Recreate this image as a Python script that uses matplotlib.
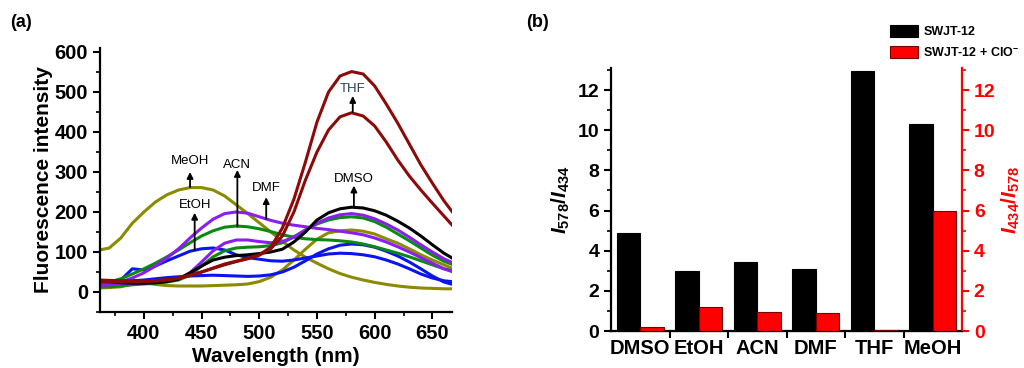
import numpy as np
import matplotlib
matplotlib.use('Agg')
import matplotlib.pyplot as plt
from matplotlib.ticker import MultipleLocator, FixedLocator

plt.rcParams['font.family'] = 'Liberation Sans'
plt.rcParams['mathtext.fontset'] = 'custom'
plt.rcParams['mathtext.rm'] = 'Liberation Sans:bold'
plt.rcParams['mathtext.it'] = 'Liberation Sans:italic:bold'
plt.rcParams['mathtext.bf'] = 'Liberation Sans:bold'

# ---- (a) fluorescence spectra ----
wavelength = list(range(360, 671, 10))

meoh_1 = [104, 110, 135, 172, 200, 225, 243, 255, 261, 261, 255, 240, 218, 196, 173, 150,
          127, 105, 87, 72, 58, 46, 37, 30, 24, 19, 15, 12, 10, 9, 8, 8]
meoh_2 = [10, 11, 13, 20, 23, 19, 16, 15, 15, 15, 16, 17, 18, 20, 26, 37,
          55, 80, 107, 132, 148, 153, 155, 152, 145, 133, 122, 108, 93, 80, 68, 56]
etoh_1 = [25, 27, 30, 58, 55, 65, 78, 90, 102, 108, 110, 105, 93, 86, 82, 78,
          77, 80, 85, 90, 95, 97, 96, 93, 88, 80, 70, 58, 45, 35, 28, 25]
etoh_2 = [20, 22, 25, 28, 30, 33, 36, 38, 40, 41, 42, 41, 40, 39, 40, 43,
          50, 62, 78, 95, 108, 117, 120, 118, 112, 102, 90, 75, 58, 40, 25, 17]
acn_1 = [20, 25, 33, 45, 58, 72, 88, 105, 123, 140, 153, 162, 165, 163, 158, 151,
         143, 137, 133, 131, 130, 128, 125, 120, 113, 105, 97, 88, 78, 68, 58, 52]
acn_2 = [12, 13, 15, 18, 20, 22, 25, 30, 42, 65, 88, 103, 110, 112, 113, 116,
         123, 138, 155, 170, 180, 186, 188, 185, 176, 162, 145, 128, 110, 92, 77, 66]
dmf_1 = [15, 18, 25, 35, 48, 65, 85, 108, 135, 160, 182, 196, 200, 197, 188, 179,
         172, 167, 163, 159, 156, 152, 148, 143, 135, 125, 113, 100, 86, 72, 58, 48]
dmf_2 = [18, 19, 20, 21, 22, 24, 27, 33, 48, 75, 103, 122, 130, 130, 126, 123,
         126, 137, 155, 172, 185, 193, 196, 192, 183, 170, 155, 137, 118, 100, 83, 70]
dmso_1 = [28, 26, 23, 22, 22, 23, 26, 32, 48, 65, 80, 87, 91, 93, 96, 100,
          107, 125, 150, 180, 198, 208, 212, 210, 203, 192, 177, 160, 140, 118, 97, 80]
thf_1 = [30, 29, 28, 28, 28, 29, 31, 35, 42, 50, 60, 70, 77, 84, 93, 112,
         160, 232, 325, 425, 500, 540, 551, 545, 515, 470, 422, 370, 318, 272, 228, 190]
thf_2 = [25, 25, 25, 25, 26, 27, 30, 34, 41, 50, 59, 68, 76, 83, 92, 108,
         140, 200, 280, 350, 405, 438, 448, 440, 415, 375, 330, 290, 255, 222, 190, 158]

# ---- (b) intensity ratios ----
solvents = ['DMSO', 'EtOH', 'ACN', 'DMF', 'THF', 'MeOH']
ratio_probe = [4.9, 3.0, 3.45, 3.1, 12.95, 10.3]
ratio_clo = [0.22, 1.18, 0.97, 0.92, 0.05, 6.0]

fig = plt.figure(figsize=(10.24, 3.68), dpi=100)

# panel (a)
ax1 = fig.add_axes([0.0977, 0.1522, 0.3437, 0.7174])
olive, blue, green, purple, maroon = '#8c8a00', '#0a14f0', '#0a8a12', '#8a1ef0', '#8b0a0a'
curves = [(meoh_1, olive), (meoh_2, olive), (etoh_1, blue), (etoh_2, blue),
          (acn_2, green), (acn_1, green), (dmf_1, purple), (dmf_2, purple),
          (dmso_1, 'black'), (thf_1, maroon), (thf_2, maroon)]
for vals, c in curves:
    ax1.plot(wavelength, vals, color=c, lw=2.2, solid_joinstyle='round')

ax1.set_xlim(362, 667)
ax1.set_ylim(-50, 610)
ax1.xaxis.set_major_locator(MultipleLocator(50))
ax1.xaxis.set_minor_locator(MultipleLocator(25))
ax1.yaxis.set_major_locator(FixedLocator([0, 100, 200, 300, 400, 500, 600]))
ax1.yaxis.set_minor_locator(MultipleLocator(50))
for s in ['top', 'right']:
    ax1.spines[s].set_visible(False)
for s in ['left', 'bottom']:
    ax1.spines[s].set_linewidth(1.6)
ax1.tick_params(which='major', direction='out', length=5, width=1.5, labelsize=14.5)
ax1.tick_params(which='minor', direction='out', length=3, width=1.2)
for lab in ax1.get_xticklabels() + ax1.get_yticklabels():
    lab.set_fontweight('bold')
ax1.set_xlabel('Wavelength (nm)', fontsize=15, fontweight='bold', labelpad=3)
ax1.set_ylabel('Fluorescence intensity', fontsize=15, fontweight='bold', labelpad=1)

arrow = dict(arrowstyle='-|>', color='black', lw=1.3, mutation_scale=9,
             shrinkA=0, shrinkB=0)
notes = [('MeOH', 440, 262, 300, 327, 'black'),
         ('EtOH', 444, 105, 198, 218, 'black'),
         ('ACN', 481, 163, 305, 317, 'black'),
         ('DMF', 506, 183, 237, 260, 'black'),
         ('DMSO', 582, 212, 266, 282, 'black'),
         ('THF', 581, 450, 490, 507, '#2f3f48')]
for name, x, y0, y1, ty, c in notes:
    ax1.annotate('', xy=(x, y1), xytext=(x, y0), arrowprops=arrow)
    ax1.text(x, ty, name, ha='center', va='center', fontsize=9.5, color=c)

# panel (b)
ax2 = fig.add_axes([0.5967, 0.1005, 0.3428, 0.7147])
ax2r = ax2.twinx()
pos = np.arange(1, len(solvents) + 1)
b1 = ax2.bar(pos - 0.2, ratio_probe, width=0.4, color='black', edgecolor='black', lw=0.8)
b2 = ax2r.bar(pos + 0.2, ratio_clo, width=0.4, color='#ff0000', edgecolor='#7a0000', lw=0.8)
for a in (ax2, ax2r):
    a.set_xlim(0.5, 6.5)
    a.set_ylim(0, 13.1)
    a.spines['top'].set_visible(False)
ax2.spines['right'].set_visible(False)
ax2r.spines['left'].set_visible(False)
ax2.spines['left'].set_linewidth(1.6)
ax2.spines['bottom'].set_linewidth(1.6)
ax2r.spines['right'].set_linewidth(1.6)
ax2r.spines['right'].set_color('red')

ax2.yaxis.set_major_locator(MultipleLocator(2))
ax2.yaxis.set_minor_locator(MultipleLocator(1))
ax2r.yaxis.set_major_locator(MultipleLocator(2))
ax2r.yaxis.set_minor_locator(MultipleLocator(1))
ax2.set_xticks(pos[:-1] + 0.5)
ax2.set_xticklabels([])
ax2.set_xticks(pos, minor=True)
ax2.set_xticklabels(solvents, minor=True, fontsize=14.5, fontweight='bold')
ax2.tick_params(axis='x', which='minor', length=0, pad=6)
ax2.tick_params(axis='x', which='major', direction='out', length=5, width=1.5)
ax2.tick_params(axis='y', which='major', direction='out', length=5, width=1.5, labelsize=14)
ax2.tick_params(axis='y', which='minor', direction='out', length=3, width=1.2)
ax2r.tick_params(axis='y', which='major', direction='out', length=5, width=1.5,
                 labelsize=14, colors='red')
ax2r.tick_params(axis='y', which='minor', direction='out', length=3, width=1.2, colors='red')
for lab in ax2.get_yticklabels() + ax2r.get_yticklabels():
    lab.set_fontweight('bold')

ax2.set_ylabel(r'$I_{\mathrm{578}}/I_{\mathrm{434}}$', fontsize=15, labelpad=4)
ax2r.set_ylabel(r'$I_{\mathrm{434}}/I_{\mathrm{578}}$', fontsize=15, color='red', labelpad=3)

fig.legend([b1, b2], ['SWJT-12', r'SWJT-12 + ClO$^{-}$'], loc='upper left',
           bbox_to_anchor=(0.864, 0.945), frameon=False,
           prop={'weight': 'bold', 'size': 9}, handlelength=2.3, handleheight=1.05,
           labelspacing=0.65, handletextpad=0.4, borderaxespad=0)

fig.text(0.010, 0.94, '(a)', fontsize=13, fontweight='bold', va='center')
fig.text(0.514, 0.94, '(b)', fontsize=13, fontweight='bold', va='center')

fig.savefig('out.png', dpi=100)
